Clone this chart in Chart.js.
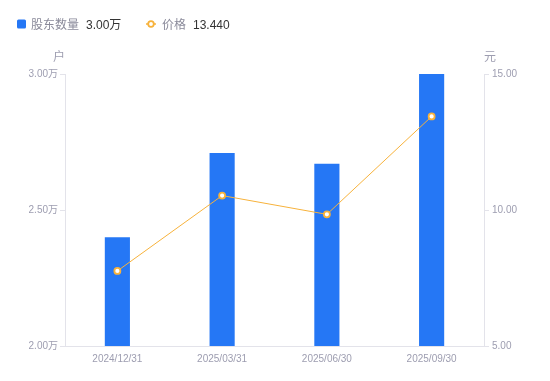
<!DOCTYPE html>
<html><head><meta charset="utf-8">
<script src="https://cdn.jsdelivr.net/npm/chart.js@4"></script>
<style>html,body{margin:0;padding:0;background:#fff;}#wrap{width:550px;height:381px;}</style>
</head><body><div id="wrap"><canvas id="c" width="550" height="381"></canvas></div>
<script>
const categories = ['2024/12/31', '2025/03/31', '2025/06/30', '2025/09/30'];
const holders = [2.40, 2.71, 2.67, 3.00];   // 万户
const prices = [7.76, 10.53, 9.84, 13.44];  // 元
const leftTicks = [2.0, 2.5, 3.0];
const rightTicks = [5, 10, 15];
const legendNames = ['股东数量', '价格'];
const legendValues = ['3.00万', '13.440'];
const axisUnits = ['户', '元'];

const FONT = '"Liberation Sans", "Noto Sans CJK SC", sans-serif';
const GRAY = '#9d9db0';
const BLUE = '#2577f5';
const ORANGE = '#f7b23b';

const overlay = {
  id: 'overlay',
  afterDraw(chart) {
    const ctx = chart.ctx;
    ctx.save();
    ctx.textBaseline = 'middle';
    ctx.font = '12px ' + FONT;
    // legend item 1
    let x = 17, y = 24;
    ctx.fillStyle = BLUE;
    ctx.beginPath();
    ctx.roundRect(x, y - 4.5, 9, 9, 1.5);
    ctx.fill();
    x += 14;
    ctx.fillStyle = '#8a8a9a';
    ctx.textAlign = 'left';
    const ty = y + 1.5;
    ctx.fillText(legendNames[0], x, ty);
    x += ctx.measureText(legendNames[0]).width + 7;
    ctx.fillStyle = '#333';
    ctx.fillText(legendValues[0], x, ty);
    // legend item 2
    x = 146;
    ctx.strokeStyle = ORANGE;
    ctx.lineWidth = 1.5;
    ctx.beginPath(); ctx.moveTo(x, y); ctx.lineTo(x + 10, y); ctx.stroke();
    ctx.beginPath(); ctx.arc(x + 5, y, 2.8, 0, Math.PI * 2);
    ctx.fillStyle = '#fff'; ctx.fill(); ctx.lineWidth = 1.8; ctx.stroke();
    x += 16;
    ctx.fillStyle = '#8a8a9a';
    ctx.fillText(legendNames[1], x, ty);
    x += ctx.measureText(legendNames[1]).width + 7;
    ctx.fillStyle = '#333';
    ctx.fillText(legendValues[1], x, ty);
    // axis units
    ctx.font = '12px ' + FONT;
    ctx.fillStyle = GRAY;
    ctx.textAlign = 'center';
    const a = chart.chartArea;
    ctx.fillText(axisUnits[0], a.left - 6, 58);
    ctx.fillText(axisUnits[1], a.right + 6, 58);
    ctx.restore();
  }
};

new Chart(document.getElementById('c'), {
  data: {
    labels: categories,
    datasets: [
      {
        type: 'line', label: legendNames[1], data: prices, yAxisID: 'y1',
        borderColor: ORANGE, borderWidth: 1, backgroundColor: '#fff',
        pointRadius: 3, pointBorderWidth: 1.8, pointBorderColor: ORANGE,
        pointBackgroundColor: '#fff', tension: 0, order: 0
      },
      {
        type: 'bar', label: legendNames[0], data: holders, yAxisID: 'y',
        backgroundColor: BLUE, barPercentage: 0.24, categoryPercentage: 1, order: 1
      }
    ]
  },
  options: {
    responsive: false, animation: false,
    layout: { padding: { top: 74, bottom: 0, left: 0, right: 0 } },
    plugins: { legend: { display: false }, tooltip: { enabled: false } },
    scales: {
      x: {
        grid: { display: false, drawTicks: false },
        border: { display: true, color: '#e3e3ea' },
        ticks: { color: GRAY, font: { size: 10, family: FONT }, padding: 7, maxRotation: 0 },
        afterFit(s) { s.height = 35; }
      },
      y: {
        position: 'left', min: 2, max: 3,
        afterBuildTicks(s) { s.ticks = leftTicks.map(v => ({ value: v })); },
        grid: { drawOnChartArea: false, tickLength: 5, color: '#e3e3ea' },
        border: { display: true, color: '#e3e3ea' },
        ticks: { color: GRAY, font: { size: 10, family: FONT }, padding: 2,
          callback: v => v.toFixed(2) + '万' },
        afterFit(s) { s.width = 65; }
      },
      y1: {
        position: 'right', min: 5, max: 15,
        afterBuildTicks(s) { s.ticks = rightTicks.map(v => ({ value: v })); },
        grid: { drawOnChartArea: false, tickLength: 5, color: '#e3e3ea' },
        border: { display: true, color: '#e3e3ea' },
        ticks: { color: GRAY, font: { size: 10, family: FONT }, padding: 3,
          callback: v => v.toFixed(2) },
        afterFit(s) { s.width = 66; }
      }
    }
  },
  plugins: [overlay]
});
</script></body></html>
